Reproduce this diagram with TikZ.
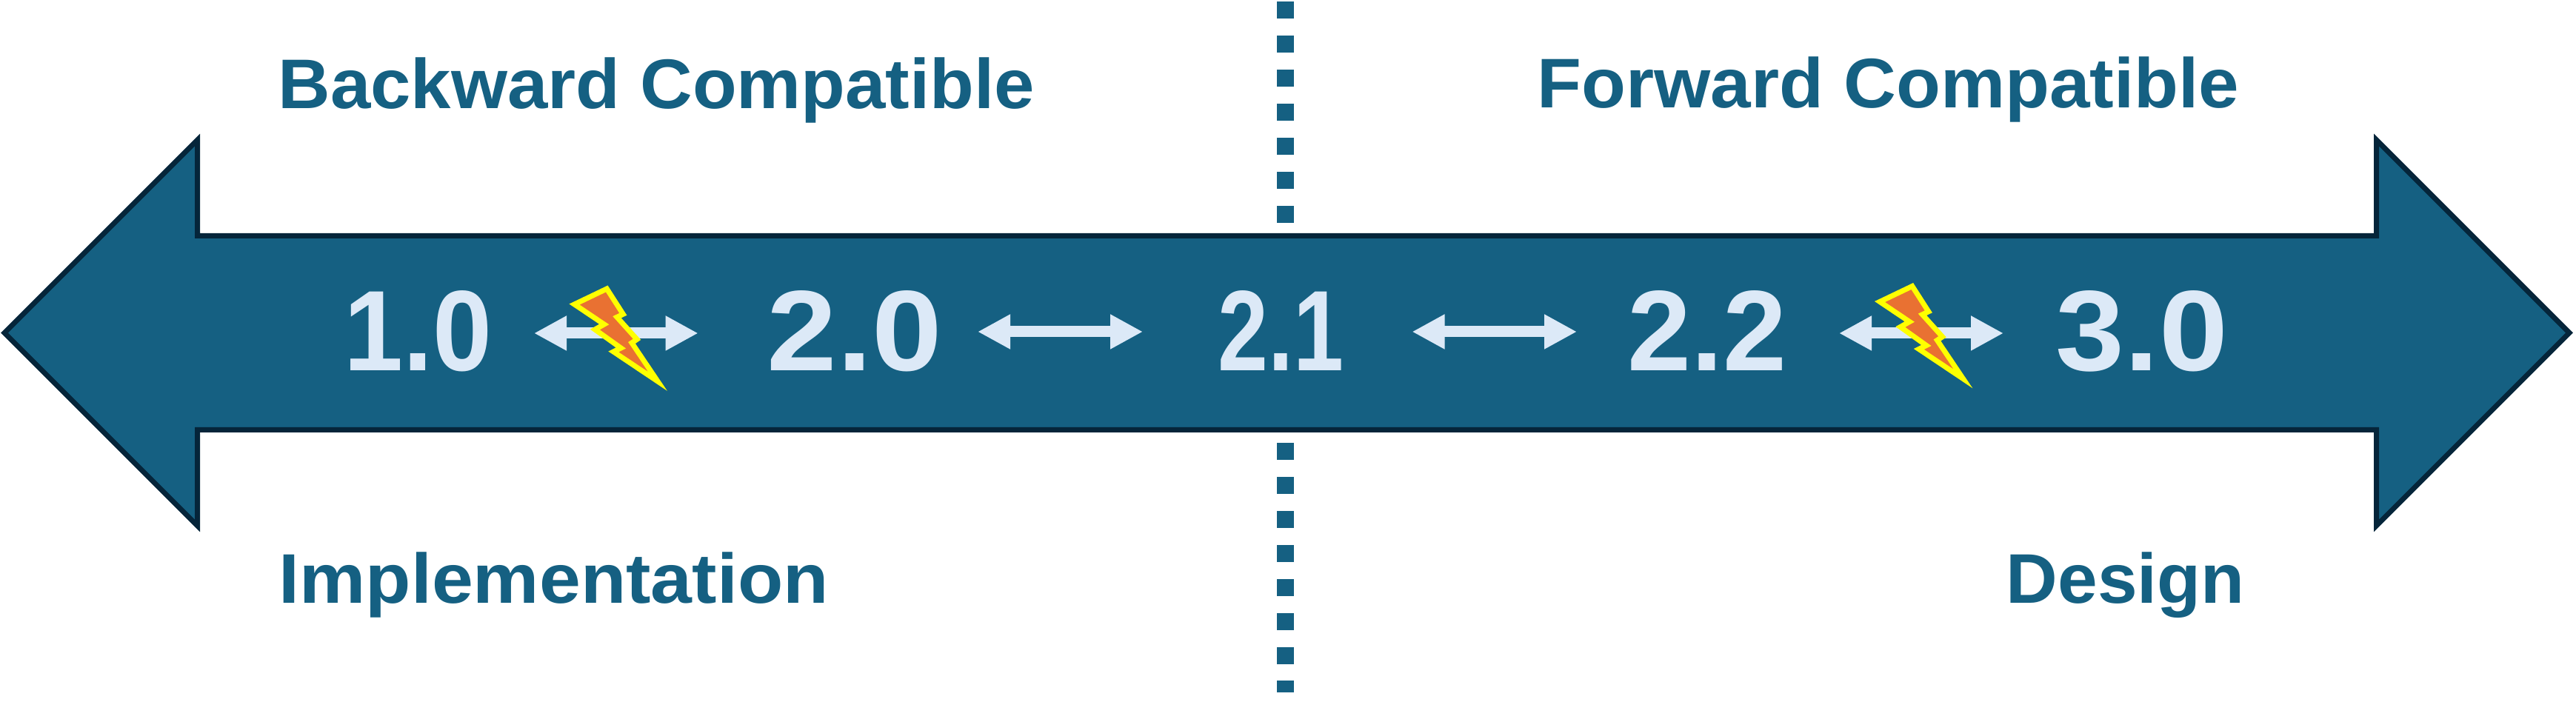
\documentclass[tikz,border=0pt]{standalone}
\usepackage{fontspec}
\setmainfont{Liberation Sans}
\usetikzlibrary{arrows.meta}

\definecolor{bandblue}{HTML}{156082}
\definecolor{banddark}{HTML}{05253A}
\definecolor{palearrow}{HTML}{DCE9F7}
\definecolor{boltorange}{HTML}{E97132}
\definecolor{boltyellow}{HTML}{FFFF00}

\tikzset{
    headlabel/.style={anchor=base west, inner sep=0pt, text=bandblue, font=\fontsize{27}{30}\selectfont\bfseries},
    version/.style={anchor=base west, inner sep=0pt, text=palearrow, font=\fontsize{44}{48}\selectfont\bfseries},
    verarrow/.style={palearrow, line width=0.15cm, {Triangle[length=0.44cm,width=0.44cm]}-{Triangle[length=0.44cm,width=0.44cm]}},
    bolt/.style={draw=boltyellow, fill=boltorange, line width=0.07cm, line join=miter}
}

\begin{document}
\begin{tikzpicture}[scale=1]
    \useasboundingbox (0,0) rectangle (34.78,9.48);

    % Flecha doble de fondo
    \draw[fill=bandblue, draw=banddark, line width=0.07cm, line join=miter]
        (0.06,4.985) -- (2.665,7.59) -- (2.665,6.295) -- (32.085,6.295) -- (32.085,7.59)
        -- (34.69,4.985) -- (32.085,2.38) -- (32.085,3.675) -- (2.665,3.675) -- (2.665,2.38) -- cycle;

    % Línea punteada central
    \foreach \y in {9.46,9.00,8.54,8.08,7.62,7.16,6.70,3.50,3.04,2.58,2.12,1.66,1.20,0.74} {
        \fill[bandblue] (17.24,\y) rectangle (17.47,\y-0.23);
    }
    \fill[bandblue] (17.24,0.29) rectangle (17.47,0.13); % Último trozo

    % Títulos
    \node[headlabel, xscale=1.03] (backward) at (3.75,8.01) {Backward Compatible};
    \node[headlabel, xscale=1.033] (forward) at (20.75,8.02) {Forward Compatible};
    \node[headlabel, xscale=1.058] (impl) at (3.76,1.33) {Implementation};
    \node[headlabel, xscale=1.017] (design) at (27.08,1.33) {Design};

    % Versiones
    \node[version, xscale=0.93] (v10) at (4.64,4.47) {1.0};
    \node[version, xscale=1.10] (v20) at (10.35,4.47) {2.0};
    \node[version, xscale=0.79] (v21) at (16.44,4.47) {2.1};
    \node[version, xscale=1.0] (v22) at (21.97,4.47) {2.2};
    \node[version, xscale=1.08] (v30) at (27.75,4.47) {3.0};

    % Flechas entre versiones
    \draw[verarrow] ([shift={(2.57,0.51)}]v10.base west) -- ([shift={(-0.924,0.51)}]v20.base west);
    \draw[verarrow] ([shift={(2.85,0.53)}]v20.base west) -- ([shift={(-1.01,0.53)}]v21.base west);
    \draw[verarrow] ([shift={(2.625,0.53)}]v21.base west) -- ([shift={(-0.68,0.53)}]v22.base west);
    \draw[verarrow] ([shift={(2.86,0.51)}]v22.base west) -- ([shift={(-0.70,0.51)}]v30.base west);

    % Rayos
    \foreach \dx/\dy in {0/0, 17.625/0.035} {
        \draw[bolt, shift={(\dx,\dy)}] (7.755,5.37) -- (8.193,5.58) -- (8.413,5.237) -- (8.33,5.197)
            -- (8.60,4.897) -- (8.53,4.85) -- (8.88,4.33) -- (8.283,4.73) -- (8.383,4.78)
            -- (8.033,5.03) -- (8.157,5.10) -- cycle;
    }
\end{tikzpicture}
\end{document}
